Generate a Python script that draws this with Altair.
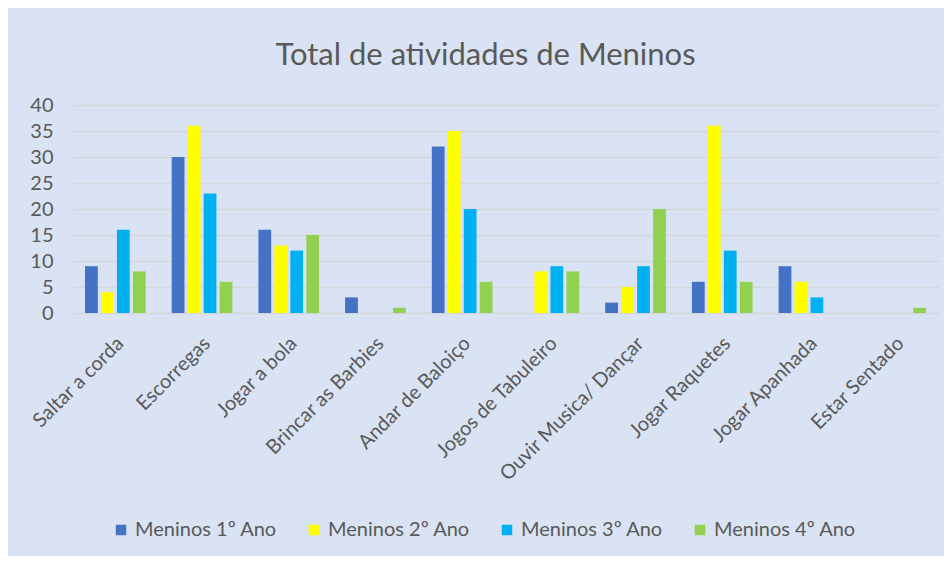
import altair as alt
import pandas as pd

categories = ["Saltar a corda", "Escorregas", "Jogar a bola", "Brincar as Barbies",
              "Andar de Baloiço", "Jogos de Tabuleiro", "Ouvir Musica/ Dançar",
              "Jogar Raquetes", "Jogar Apanhada", "Estar Sentado"]
series = ["Meninos 1º Ano", "Meninos 2º Ano", "Meninos 3º Ano", "Meninos 4º Ano"]
ano1 = [9, 30, 16, 3, 32, 0, 2, 6, 9, 0]
ano2 = [4, 36, 13, 0, 35, 8, 5, 36, 6, 0]
ano3 = [16, 23, 12, 0, 20, 9, 9, 12, 3, 0]
ano4 = [8, 6, 15, 1, 6, 8, 20, 6, 0, 1]
colors = ["#4472C4", "#FFFF00", "#00B0F0", "#92D050"]
y_ticks = [0, 5, 10, 15, 20, 25, 30, 35, 40]

rows = []
for s, vals in zip(series, [ano1, ano2, ano3, ano4]):
    for c, v in zip(categories, vals):
        rows.append({"Atividade": c, "Serie": s, "Valor": v})
df = pd.DataFrame(rows)

FONT = "Lato"
TXT = "#595959"

chart = alt.Chart(df).mark_bar().encode(
    x=alt.X("Atividade:N", sort=categories, title=None,
            scale=alt.Scale(paddingInner=0.3, paddingOuter=0.15),
            axis=alt.Axis(labelAngle=-45, labelFontSize=20, labelColor=TXT, labelFont=FONT,
                          ticks=False, domain=False, labelPadding=20, labelLimit=300,
                          labelOffset=-2)),
    xOffset=alt.XOffset("Serie:N", sort=series,
                        scale=alt.Scale(paddingInner=0.2, paddingOuter=0)),
    y=alt.Y("Valor:Q", title=None,
            scale=alt.Scale(domain=[0, 40], nice=False),
            axis=alt.Axis(values=y_ticks, labelFontSize=20, labelColor=TXT, labelFont=FONT,
                          ticks=False, domain=False, labelPadding=19,
                          grid=True, gridColor="#D3D6DB", gridWidth=1.5)),
    color=alt.Color("Serie:N", sort=series,
                    scale=alt.Scale(domain=series, range=colors),
                    legend=alt.Legend(title=None, orient="none", direction="horizontal",
                                      legendX=39, legendY=415, columns=4,
                                      symbolType="square", symbolSize=110,
                                      symbolStrokeWidth=0,
                                      labelFontSize=20, labelColor=TXT, labelFont=FONT,
                                      columnPadding=27, labelOffset=4)),
).properties(
    width=867,
    height=208,
    title=alt.Title("Total de atividades de Meninos", fontSize=31, color=TXT,
                    font=FONT, fontWeight="normal", anchor="middle", dx=-20, offset=23),
    background="#DAE3F3",
    padding={"left": 64, "top": 97, "right": 5, "bottom": 243},
    autosize=alt.AutoSizeParams(type="none"),
).configure_view(stroke=None)

chart.save("out.html", embed_options={"renderer": "svg", "actions": False})
